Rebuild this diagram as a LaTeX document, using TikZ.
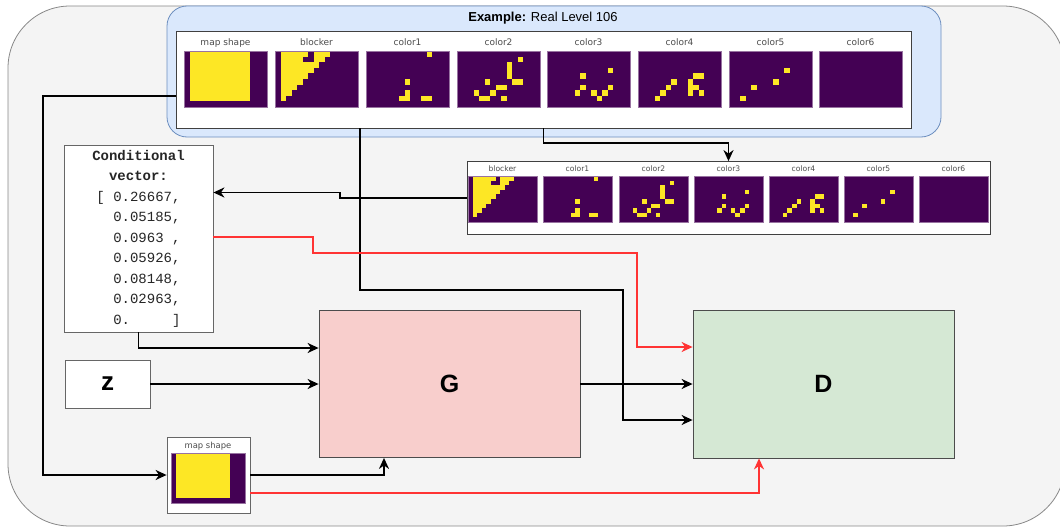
\documentclass[tikz,border=0pt]{standalone}
\usepackage{fontspec}
\setmainfont{Liberation Sans}
\newfontfamily\labelfont{DejaVu Sans}
\newfontfamily\vecfont{Liberation Mono}
\usetikzlibrary{arrows.meta,positioning}

\definecolor{vpurple}{RGB}{68,1,84}
\definecolor{vyellow}{RGB}{253,231,37}
\definecolor{bgfill}{RGB}{244,244,244}
\definecolor{bgline}{RGB}{136,136,136}
\definecolor{exfill}{RGB}{218,232,252}
\definecolor{exline}{RGB}{108,142,191}
\definecolor{genfill}{RGB}{248,206,204}
\definecolor{discfill}{RGB}{213,232,212}
\definecolor{redline}{RGB}{255,51,51}

% yellow cells, col1/row1/col2/row2 on a 15x10 grid
\newcommand{\cellsmap}{1/0/11/8}
\newcommand{\cellsblocker}{1/0/5/0, 7/0/9/0, 1/1/4/1, 7/1/8/1, 1/2/7/2, 1/3/6/3,
  1/4/5/4, 1/5/4/5, 1/6/3/6, 1/7/2/7, 1/8/1/8}
\newcommand{\cellsone}{11/0/11/0, 7/5/7/5, 7/7/7/8, 6/8/6/8, 10/8/11/8}
\newcommand{\cellstwo}{11/1/11/1, 9/2/9/4, 10/5/11/5, 5/5/5/5, 7/6/8/6, 3/7/3/7,
  6/7/6/7, 4/8/5/8, 8/8/8/8}
\newcommand{\cellsthree}{11/3/11/3, 6/4/6/4, 6/6/6/6, 11/6/11/6, 5/7/5/7, 8/7/8/7,
  10/7/10/7, 9/8/9/8}
\newcommand{\cellsfour}{3/8/3/8, 4/7/4/7, 5/6/5/6, 6/5/6/5, 10/4/11/4, 9/5/9/7,
  10/6/10/6, 11/7/11/7}
\newcommand{\cellsfive}{2/8/2/8, 4/6/4/6, 8/5/8/5, 10/3/10/3}

% #1 label name, #2 #3 top left, #4 width, #5 height, #6 title, #7 cells
\newcommand{\pixpic}[7]{%
  \fill[vpurple] (#2,#3) rectangle ++(#4,#5);
  \foreach \ca/\ra/\cb/\rb in #7
    \fill[vyellow] ({#2+\ca*#4/15},{#3+\ra*#5/10})
      rectangle ({#2+(\cb+1)*#4/15},{#3+(\rb+1)*#5/10});
  \draw[imgedge] (#2,#3) rectangle ++(#4,#5);
  \node[imglabel] (#1) at ({#2+#4/2},{#3-5}) {#6};
}
% empty map layer
\newcommand{\pixblank}[6]{%
  \fill[vpurple] (#2,#3) rectangle ++(#4,#5);
  \draw[imgedge] (#2,#3) rectangle ++(#4,#5);
  \node[imglabel] (#1) at ({#2+#4/2},{#3-5}) {#6};
}

\begin{document}
\begin{tikzpicture}[x=1pt, y=-1pt,
    flow/.style={line width=1.9pt, -{Stealth[length=11pt,width=10pt,inset=3.5pt]}},
    redflow/.style={flow, draw=redline},
    imglabel/.style={font=\labelfont\fontsize{9}{10}\selectfont,
      text=black!70, anchor=base, inner sep=0pt},
    imgedge/.style={draw=vpurple!55!white, line width=0.4pt},
    box/.style={draw=black!60, fill=white, line width=0.8pt}]

    \clip (0,0) rectangle (1060,527);

    \node[draw=bgline, fill=bgfill, line width=0.8pt,
    rounded corners=62pt,
    minimum width=1057pt,
    minimum height=520pt] (backdrop) at (536.5,266) {};

    % example level
    \node[draw=exline, fill=exfill, line width=0.8pt,
    rounded corners=20pt,
    minimum width=774pt,
    minimum height=131pt] (example) at (554,71.5) {};

    \node[font=\fontsize{13}{15}\selectfont] (extitle) at (543,18)
      {\textbf{Example:} Real Level 106};

    \node[box, draw=black!75,
    minimum width=735pt,
    minimum height=97pt] (toppanel) at (543.5,79.5) {};

    \pixpic{lblmap}{184}{51}{83}{56}{map shape}{\cellsmap}
    \pixpic{lblblocker}{275}{51}{83}{56}{blocker}{\cellsblocker}
    \pixpic{lblcolA}{366}{51}{83}{56}{color1}{\cellsone}
    \pixpic{lblcolB}{457}{51}{83}{56}{color2}{\cellstwo}
    \pixpic{lblcolC}{547}{51}{83}{56}{color3}{\cellsthree}
    \pixpic{lblcolD}{638}{51}{83}{56}{color4}{\cellsfour}
    \pixpic{lblcolE}{729}{51}{83}{56}{color5}{\cellsfive}
    \pixblank{lblcolF}{819}{51}{83}{56}{color6}

    % layers without the map shape
    \node[box, draw=black!75,
    minimum width=523pt,
    minimum height=73pt] (lowpanel) at (728.5,198) {};

    \begin{scope}[imglabel/.append style={font=\labelfont\fontsize{7.6}{9}\selectfont}]
      \pixpic{lowblocker}{468}{176}{69}{46}{blocker}{\cellsblocker}
      \pixpic{lowcolA}{543}{176}{69}{46}{color1}{\cellsone}
      \pixpic{lowcolB}{619}{176}{69}{46}{color2}{\cellstwo}
      \pixpic{lowcolC}{694}{176}{69}{46}{color3}{\cellsthree}
      \pixpic{lowcolD}{769}{176}{69}{46}{color4}{\cellsfour}
      \pixpic{lowcolE}{844}{176}{69}{46}{color5}{\cellsfive}
      \pixblank{lowcolF}{919}{176}{69}{46}{color6}
    \end{scope}

    \node[box,
    minimum width=149pt,
    minimum height=187pt,
    align=center, inner sep=0pt, text=black!85,
    font=\vecfont\fontsize{14}{20.5}\selectfont] (condvec) at (138.5,238.5)
      {\textbf{Conditional}\\\textbf{vector:}\\{[}\phantom{0}0.26667,\\
       \phantom{[0}0.05185,\\\phantom{[0}0.0963\phantom{0},\\
       \phantom{[0}0.05926,\\\phantom{[0}0.08148,\\
       \phantom{[0}0.02963,\\\phantom{[0}0.\phantom{00000}]};

    \node[box,
    minimum width=85pt,
    minimum height=48pt,
    font=\bfseries\fontsize{26}{30}\selectfont] (zbox) at (107.5,384) {z};

    \node[draw=black!70, fill=genfill, line width=0.8pt,
    minimum width=261pt,
    minimum height=147pt,
    font=\bfseries\fontsize{25}{30}\selectfont] (gen) at (449.5,384) {G};

    \node[draw=black!70, fill=discfill, line width=0.8pt,
    minimum width=261pt,
    minimum height=148pt,
    font=\bfseries\fontsize{25}{30}\selectfont] (disc) at (823.5,384) {D};

    \node[box,
    minimum width=83pt,
    minimum height=76pt] (mapbox) at (208.5,475) {};

    \begin{scope}[imglabel/.append style={font=\labelfont\fontsize{8.4}{9}\selectfont}]
      \pixpic{mapboxlbl}{171}{453}{74}{50}{map shape}{\cellsmap}
    \end{scope}

    \coordinate (leftbend) at (43,475);
    \coordinate (blackjog) at (623,290);
    \coordinate (redjog) at (637,253);

    \draw[flow] ([yshift=-16.5pt]toppanel.west) -| (leftbend) -- (mapbox.west);
    \draw[flow] (toppanel.south) -- ++(0,15) -| (lowpanel.north);
    \draw[flow] (lowpanel.west) -- ++(-127,0) |- ([yshift=46pt]condvec.east);
    \draw[flow] ([xshift=-183.5pt]toppanel.south) |- (blackjog) |- ([yshift=-36pt]disc.west);
    \draw[redflow] ([yshift=1.5pt]condvec.east) -- ++(100,0) |- (redjog) |- ([yshift=37pt]disc.west);
    \draw[flow] (condvec.south) |- ([yshift=36pt]gen.west);
    \draw[flow] (zbox.east) -- (zbox.east -| gen.west);
    \draw[flow] (gen.east) -- (gen.east -| disc.west);
    \draw[flow] (mapbox.east) -| ([xshift=-65.5pt]gen.south);
    \draw[redflow] ([yshift=-18pt]mapbox.east) -| ([xshift=-64.5pt]disc.south);
\end{tikzpicture}
\end{document}
